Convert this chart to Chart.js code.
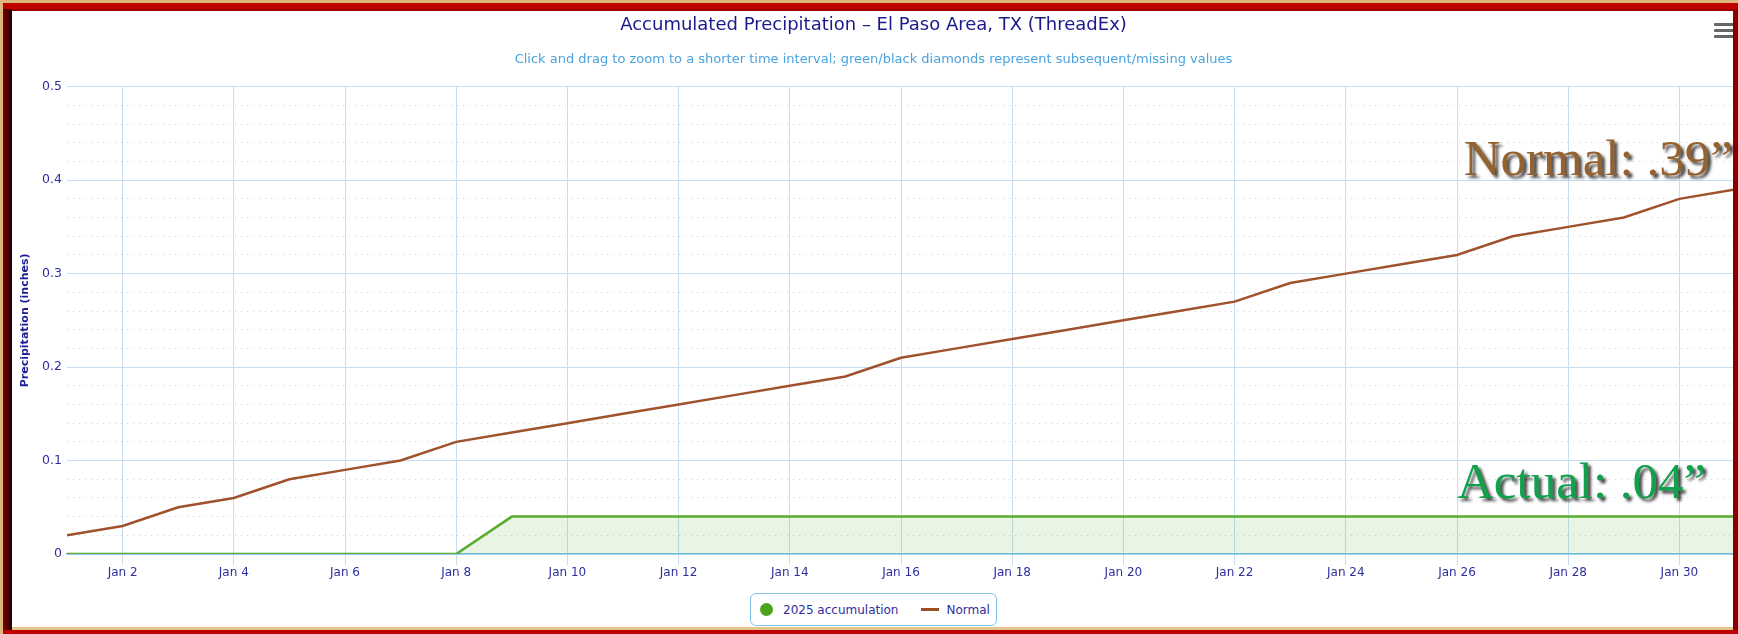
<!DOCTYPE html>
<html>
<head>
<meta charset="utf-8">
<script src="https://cdn.jsdelivr.net/npm/chart.js@4"></script>
<style>
    html, body { margin: 0; padding: 0; }
    body { width: 1738px; height: 634px; position: relative; overflow: hidden; background: #dcb67c; }
    .frame-red { position: absolute; left: 3px; top: 3px; right: 0; bottom: 0; background: #bf0000; }
    .frame-left { position: absolute; left: 3px; top: 9px; width: 9px; bottom: 4px;
        background: linear-gradient(to right, #7a0000, #4a0000 60%, #150000); }
    .frame-top-line { position: absolute; left: 12px; top: 9px; right: 0; height: 2px; background: #a30000; }
    .frame-bottom-line { position: absolute; left: 12px; top: 627px; right: 0; height: 3px; background: #e3c48c; }
    .paper { position: absolute; left: 12px; top: 11px; width: 1721px; height: 616px; background: #ffffff; }
    .frame-right { position: absolute; left: 1733px; top: 9px; width: 5px; bottom: 4px; background: #8a0000; z-index: 5; }
    #chartCanvas { position: absolute; left: 0; top: 0; z-index: 2; }
    .menu-btn { position: absolute; left: 1714px; top: 23px; width: 20px; z-index: 4; }
    .menu-btn span { display: block; height: 3px; margin-bottom: 3px; background: #666; border-radius: 1px; }
    #legend { position: absolute; left: 750px; top: 593px; width: 247px; height: 33px; box-sizing: border-box;
        border: 1px solid #7cc2ea; border-radius: 6px; background: #fff; z-index: 3;
        display: flex; align-items: center; font: 12px "DejaVu Sans", sans-serif; color: #2e2e9c; }
    .legend-item { display: flex; align-items: center; white-space: nowrap; }
    .legend-dot { width: 13px; height: 13px; border-radius: 50%; margin: 0 10px 0 9px; }
    .legend-line { width: 18px; height: 3px; margin: 0 7px 0 23px; }
</style>
</head>
<body>
<div class="frame-red"></div>
<div class="frame-top-line"></div>
<div class="frame-left"></div>
<div class="frame-bottom-line"></div>
<div class="paper"></div>
<canvas id="chartCanvas" width="1738" height="634"></canvas>
<div class="frame-right"></div>
<div class="menu-btn"><span></span><span></span><span></span></div>
<div id="legend"></div>

<script>
// --- data (January, day of month) ---
const days = [1, 2, 3, 4, 5, 6, 7, 8, 9, 10, 11, 12, 13, 14, 15, 16,
              17, 18, 19, 20, 21, 22, 23, 24, 25, 26, 27, 28, 29, 30, 31];
const actualValues = [0, 0, 0, 0, 0, 0, 0, 0, 0.04, 0.04, 0.04, 0.04, 0.04, 0.04, 0.04, 0.04,
                      0.04, 0.04, 0.04, 0.04, 0.04, 0.04, 0.04, 0.04, 0.04, 0.04, 0.04, 0.04, 0.04, 0.04, 0.04];
const normalValues = [0.02, 0.03, 0.05, 0.06, 0.08, 0.09, 0.10, 0.12, 0.13, 0.14, 0.15, 0.16, 0.17, 0.18, 0.19, 0.21,
                      0.22, 0.23, 0.24, 0.25, 0.26, 0.27, 0.29, 0.30, 0.31, 0.32, 0.34, 0.35, 0.36, 0.38, 0.39];
const xTickDays = [2, 4, 6, 8, 10, 12, 14, 16, 18, 20, 22, 24, 26, 28, 30];
const monthLabel = 'Jan';

// callout texts laid over the plot (anchored in data units)
const callouts = [
    { text: 'Normal: .39\u201D', color: '#95622f', day: 26.12, level: 0.405 },
    { text: 'Actual: .04\u201D', color: '#11a04c', day: 26.0, level: 0.06 }
];

const TEXT_BLUE = '#2e2e9e';
const GRID_BLUE = '#c8ddef';
const FONT = '"DejaVu Sans", sans-serif';

const toPoints = vals => days.map((d, i) => ({ x: d, y: vals[i] }));
const isMajor = v => Math.abs(v * 10 - Math.round(v * 10)) < 1e-6;

// draws the big callout labels on top
const calloutPlugin = {
    id: 'callouts',
    afterDraw(chart) {
        const { ctx, scales: { x, y } } = chart;
        ctx.save();
        ctx.font = '51px "Liberation Serif", serif';
        ctx.textAlign = 'left';
        ctx.textBaseline = 'alphabetic';
        ctx.shadowColor = 'rgba(20,20,20,0.8)';
        ctx.shadowOffsetX = 3;
        ctx.shadowOffsetY = 3;
        ctx.shadowBlur = 3;
        callouts.forEach(c => {
            ctx.fillStyle = c.color;
            ctx.fillText(c.text, x.getPixelForValue(c.day), y.getPixelForValue(c.level));
        });
        ctx.restore();
    }
};

const ctx = document.getElementById('chartCanvas').getContext('2d');
const chart = new Chart(ctx, {
    type: 'line',
    data: {
        datasets: [
            {
                label: '2025 accumulation',
                data: toPoints(actualValues),
                borderColor: '#58ad2f',
                backgroundColor: 'rgba(88,173,47,0.13)',
                legendColor: '#4aa31c',
                fill: 'origin',
                borderWidth: 2.5,
                pointRadius: 0,
                tension: 0
            },
            {
                label: 'Normal',
                data: toPoints(normalValues),
                borderColor: '#a0522d',
                legendColor: '#9b4f25',
                fill: false,
                borderWidth: 2.5,
                pointRadius: 0,
                tension: 0
            }
        ]
    },
    options: {
        responsive: false,
        animation: false,
        layout: { padding: { left: 12, right: 3, top: 0, bottom: 0 } },
        plugins: {
            legend: { display: false },
            tooltip: { enabled: false },
            title: {
                display: true,
                text: 'Accumulated Precipitation \u2013 El Paso Area, TX (ThreadEx)',
                color: '#1a1a8c',
                font: { family: FONT, size: 18, weight: 'normal', lineHeight: 1.2 },
                padding: { top: 14.2, bottom: 16.4 }
            },
            subtitle: {
                display: true,
                text: 'Click and drag to zoom to a shorter time interval; green/black diamonds represent subsequent/missing values',
                color: '#4aa3df',
                font: { family: FONT, size: 13, weight: 'normal', lineHeight: 1.2 },
                padding: { top: 0, bottom: 18.9 }
            }
        },
        scales: {
            x: {
                type: 'linear',
                min: days[0],
                max: days[days.length - 1],
                afterBuildTicks: scale => { scale.ticks = xTickDays.map(v => ({ value: v })); },
                afterFit: scale => { scale.height = 80; },
                ticks: {
                    autoSkip: false,
                    maxRotation: 0,
                    padding: 1,
                    color: TEXT_BLUE,
                    font: { family: FONT, size: 12 },
                    callback: v => monthLabel + ' ' + v
                },
                grid: { color: GRID_BLUE, tickColor: GRID_BLUE, tickLength: 11 },
                border: { color: '#74bfe8', width: 1.5 }
            },
            y: {
                position: 'left',
                min: 0,
                max: 0.5,
                afterFit: scale => { scale.width = 55; },
                ticks: {
                    stepSize: 0.1,
                    padding: 5,
                    color: TEXT_BLUE,
                    font: { family: FONT, size: 12.5 },
                    callback: v => String(Number(v.toFixed(1)))
                },
                grid: { color: GRID_BLUE, drawTicks: false },
                border: { display: false },
                title: {
                    display: true,
                    text: 'Precipitation (inches)',
                    color: '#1c1c94',
                    font: { family: FONT, size: 11, weight: 'bold', lineHeight: 1.2 },
                    padding: { top: 6.4, bottom: 0 }
                }
            },
            yMinor: {
                position: 'left',
                min: 0,
                max: 0.5,
                afterFit: scale => { scale.width = 0; },
                ticks: { display: false, stepSize: 0.02 },
                grid: {
                    drawTicks: false,
                    color: c => (c.tick && isMajor(c.tick.value)) ? 'rgba(0,0,0,0)' : '#d2d2d2'
                },
                border: { display: false, dash: [1, 5] }
            }
        }
    },
    plugins: [calloutPlugin]
});

// html legend built from the datasets
const legendEl = document.getElementById('legend');
chart.data.datasets.forEach((ds, i) => {
    const item = document.createElement('div');
    item.className = 'legend-item';
    const sym = document.createElement('span');
    sym.className = i === 0 ? 'legend-dot' : 'legend-line';
    sym.style.background = ds.legendColor;
    const label = document.createElement('span');
    label.textContent = ds.label;
    item.appendChild(sym);
    item.appendChild(label);
    legendEl.appendChild(item);
});
</script>
</body>
</html>
